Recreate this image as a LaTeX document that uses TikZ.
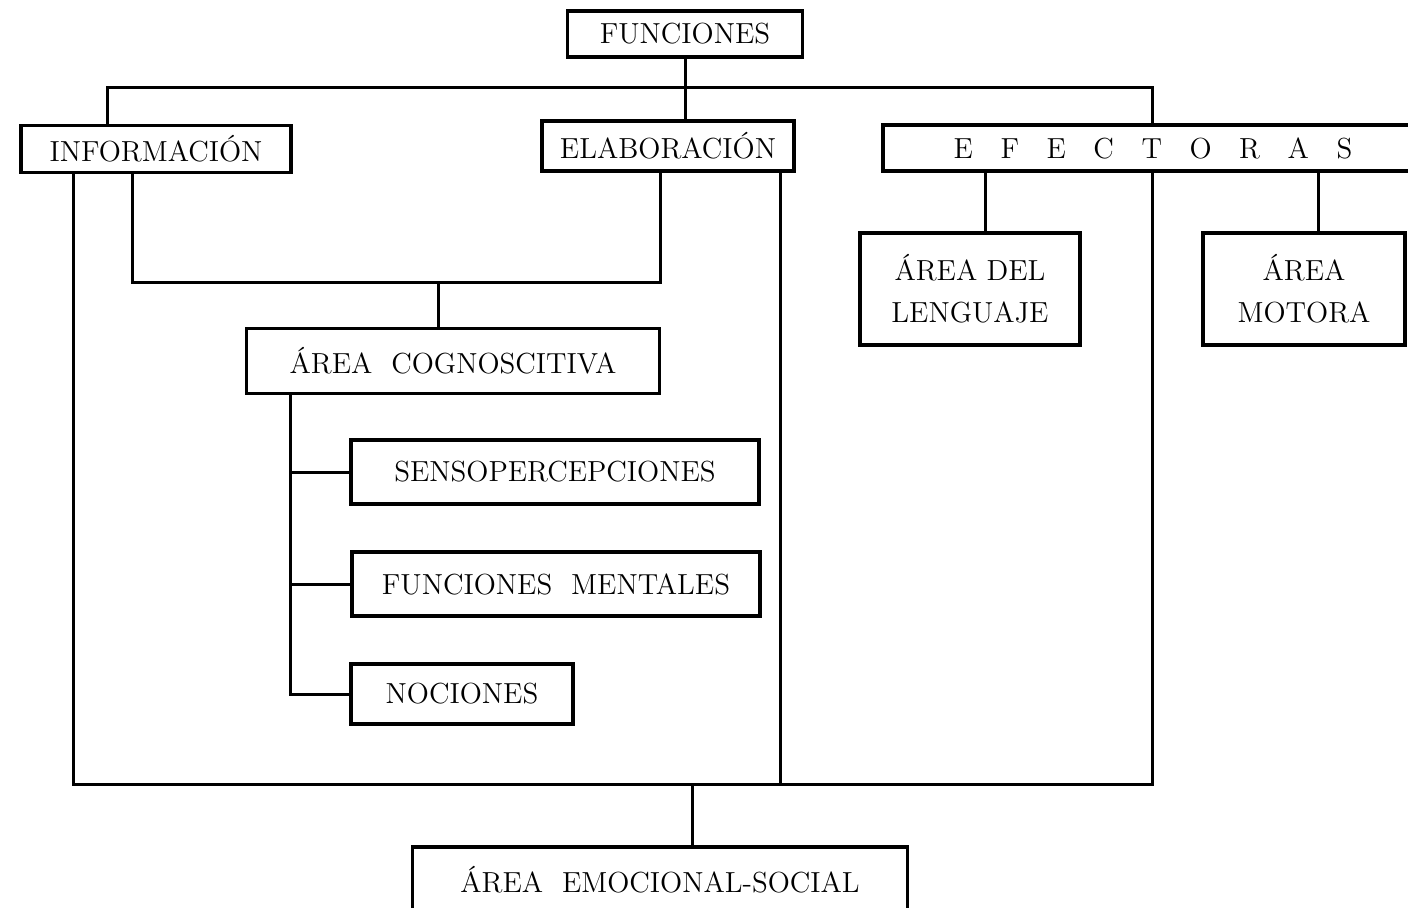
\documentclass[tikz,border=0pt]{standalone}
\tikzset{
  caja/.style={draw,line width=1.6pt,inner sep=0pt,align=center,font=\fontsize{14.5}{21}\selectfont},
  linea/.style={line width=1.5pt}
}
\begin{document}
\begin{tikzpicture}[x=0.5pt,y=-0.5pt]
\useasboundingbox (0,0) rectangle (1408,907);
\clip (0,0) rectangle (1408,907);

%boxes
\node[caja,minimum width=117.5pt,minimum height=23pt] (func) at (685,34) {FUNCIONES};
\node[caja,minimum width=135pt,minimum height=23.5pt] (info) at (156,149) {INFORMACIÓN};
\node[caja,minimum width=126pt,minimum height=25pt] (elab) at (668,146) {ELABORACIÓN};
\node[caja,minimum width=270pt,minimum height=23pt] (efec) at (1153,148)
  {E\hspace{0.95em}F\hspace{0.95em}E\hspace{0.95em}C\hspace{0.95em}T\hspace{0.95em}O\hspace{0.95em}R\hspace{0.95em}A\hspace{0.95em}S};
\node[caja,minimum width=110pt,minimum height=56pt] (leng) at (970,289) {ÁREA DEL\\LENGUAJE};
\node[caja,minimum width=101pt,minimum height=56pt] (moto) at (1304,289) {ÁREA\\MOTORA};
\node[caja,minimum width=206.5pt,minimum height=32.5pt] (cogn) at (453,361) {ÁREA\ \ COGNOSCITIVA};
\node[caja,minimum width=204pt,minimum height=32pt] (sens) at (555,472) {SENSOPERCEPCIONES};
\node[caja,minimum width=204pt,minimum height=32pt] (ment) at (556,584) {FUNCIONES\ \ MENTALES};
\node[caja,minimum width=111pt,minimum height=30pt] (noci) at (462,694) {NOCIONES};
\node[caja,minimum width=247.5pt,minimum height=33pt] (emoc) at (660,880) {ÁREA\ \ EMOCIONAL-SOCIAL};

%junctions
\coordinate (tl) at (107,87);
\coordinate (tr) at (1152,87);
\coordinate (bl) at (73,784);
\coordinate (br) at (1152,784);
\coordinate (eb) at (780,784);
\coordinate (em) at (692,784);
\coordinate (il) at (132,282);
\coordinate (ir) at (660,282);
\coordinate (im) at (438,282);
\coordinate (cb) at (290,694);
\coordinate (xl) at (985,200);
\coordinate (xm) at (1318,200);

%connectors
\draw[linea] (func.south) -- (func.south |- elab.north);
\draw[linea] (info.north -| tl) -- (tl) -- (tr) -- (efec.north -| tr); %top
\draw[linea] (efec.south -| br) -- (br) -- (bl) -- (info.south -| bl); %bottom
\draw[linea] (elab.south -| eb) -- (eb);
\draw[linea] (em) -- (em |- emoc.north);
\draw[linea] (info.south -| il) -- (il) -- (ir) -- (elab.south -| ir);
\draw[linea] (im) -- (im |- cogn.north);
\draw[linea] (efec.south -| xl) -- (xl |- leng.north);
\draw[linea] (efec.south -| xm) -- (xm |- moto.north);

\draw[linea] (cogn.south -| cb) -- (cb) -- (noci.west);
\draw[linea] (cb |- sens.west) -- (sens.west);
\draw[linea] (cb |- ment.west) -- (ment.west);

\end{tikzpicture}
\end{document}
